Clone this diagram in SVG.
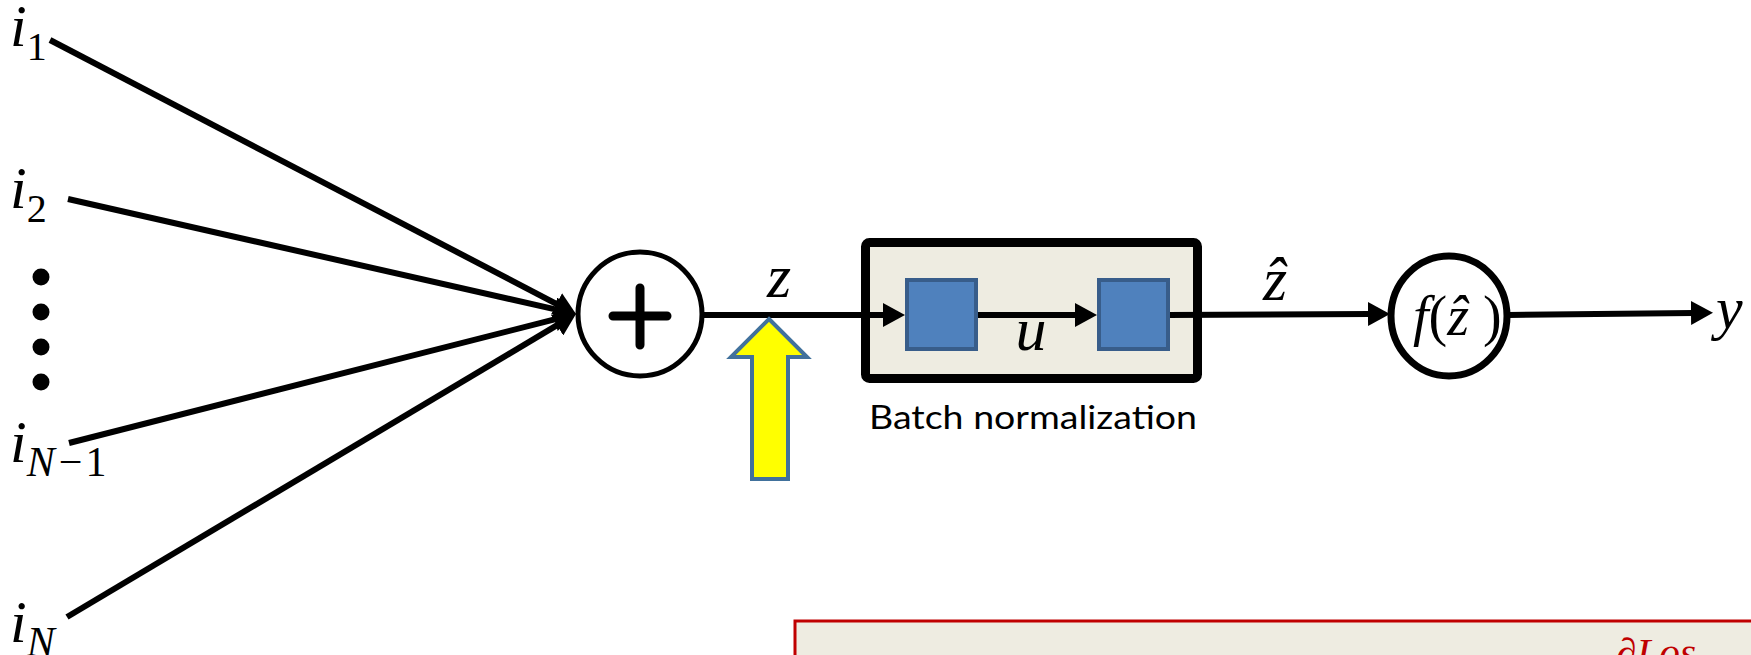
<svg xmlns="http://www.w3.org/2000/svg" width="1751" height="655" viewBox="0 0 1751 655">
<defs>
<style>
.math{font-family:"Liberation Serif","DejaVu Serif",serif;font-style:italic;fill:#000}
.up{font-style:normal}
.conn{stroke:#000;stroke-width:6;fill:none}
.blue{fill:#4F81BD;stroke:#385D8A;stroke-width:4}
.lbl{font-family:Lato,"Liberation Sans",sans-serif;font-size:32px;fill:#000}
</style>
<marker id="ah" viewBox="0 0 22 24" markerWidth="22" markerHeight="24" refX="2" refY="12" orient="auto" markerUnits="userSpaceOnUse">
<path d="M0,0 L22,12 L0,24 z" fill="#000"/>
</marker>
</defs>
<rect width="1751" height="655" fill="#fff"/>

<g id="inputs">
<text class="math" x="10" y="46" font-size="60">i<tspan class="up" font-size="40" dy="14">1</tspan></text>
<text class="math" x="10" y="208" font-size="60">i<tspan class="up" font-size="40" dy="14">2</tspan></text>
<circle cx="41" cy="277" r="8.5"/>
<circle cx="41" cy="312" r="8.5"/>
<circle cx="41" cy="347" r="8.5"/>
<circle cx="41" cy="382" r="8.5"/>
<text class="math" x="10" y="462" font-size="60">i<tspan font-size="42" dy="14">N</tspan><tspan class="up" font-size="42" dx="4">−</tspan><tspan class="up" font-size="42" dx="3">1</tspan></text>
<text class="math" x="10" y="642" font-size="60">i<tspan font-size="42" dy="14">N</tspan></text>
</g>

<g id="batchnorm">
<rect x="865.5" y="242.5" width="332" height="136" rx="4" fill="#EEECE1" stroke="#000" stroke-width="9"/>
<text class="lbl" x="1033" y="429" text-anchor="middle" textLength="328" lengthAdjust="spacingAndGlyphs">Batch normalization</text>
</g>

<g id="connectors">
<line class="conn" x1="50" y1="40" x2="558.3" y2="304.8" marker-end="url(#ah)"/>
<line class="conn" x1="68" y1="199" x2="556.5" y2="309.6" marker-end="url(#ah)"/>
<line class="conn" x1="69" y1="443" x2="556.6" y2="318.9" marker-end="url(#ah)"/>
<line class="conn" x1="67" y1="617" x2="558.8" y2="324.2" marker-end="url(#ah)"/>
<line class="conn" x1="702" y1="315" x2="885" y2="315" marker-end="url(#ah)"/>
<line class="conn" x1="978" y1="315" x2="1077" y2="315" marker-end="url(#ah)"/>
<line class="conn" x1="1168" y1="315" x2="1370" y2="314" marker-end="url(#ah)"/>
<line class="conn" x1="1508" y1="315" x2="1693" y2="313" marker-end="url(#ah)"/>
</g>

<g id="sum">
<circle cx="640" cy="314" r="62" fill="#fff" stroke="#000" stroke-width="5"/>
<path d="M613,316 H667 M640,288 V345" stroke="#000" stroke-width="9" stroke-linecap="round"/>
</g>

<g id="box1"><rect class="blue" x="907" y="280" width="69" height="69"/></g>
<g id="box2"><rect class="blue" x="1099" y="280" width="69" height="69"/></g>

<g id="labels">
<text class="math" x="779" y="297" font-size="62" text-anchor="middle">z</text>
<text class="math" x="1031" y="350" font-size="62" text-anchor="middle">u</text>
<text class="math" x="1275" y="300" font-size="62" text-anchor="middle">ẑ</text>
</g>

<g id="activation">
<ellipse cx="1449" cy="316" rx="58" ry="60" fill="#fff" stroke="#000" stroke-width="7"/>
<text class="math" x="1413" y="335" font-size="56">f<tspan class="up">(</tspan>ẑ <tspan class="up">)</tspan></text>
</g>

<g id="output">
<text class="math" x="1716" y="328" font-size="60">y</text>
</g>

<g id="yellow-arrow">
<polygon points="769,319 807,357 788,357 788,479 752,479 752,357 731,357" fill="#FFFF00" stroke="#41719C" stroke-width="4"/>
</g>

<g id="formula-box">
<rect x="795" y="621" width="1000" height="80" fill="#EEECE1" stroke="#C00000" stroke-width="3"/>
<text class="math" x="1616" y="666" font-size="40" style="fill:#C00000" textLength="80" lengthAdjust="spacingAndGlyphs">∂Los</text>
</g>
</svg>
